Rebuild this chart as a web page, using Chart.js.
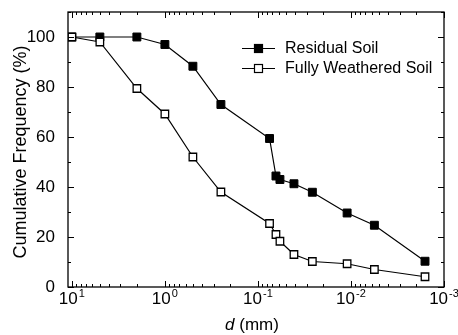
<!DOCTYPE html>
<html>
<head>
<meta charset="utf-8">
<script src="https://cdn.jsdelivr.net/npm/chart.js@4.4.1/dist/chart.umd.min.js"></script>
<style>
  html, body { margin: 0; padding: 0; background: #fff; }
  #wrap { width: 458px; height: 335px; }
</style>
</head>
<body>
<div id="wrap"><canvas id="c" width="458" height="335"></canvas></div>
<script>
// ---- data ----
const particleSize = [10, 5, 2, 1, 0.5, 0.25, 0.075, 0.064, 0.058, 0.041, 0.026, 0.011, 0.0056, 0.0016];
const residualSoil = [100, 100, 100, 97, 88.3, 73, 59.4, 44.4, 43, 41.3, 37.9, 29.6, 24.7, 10.3];
const fullyWeatheredSoil = [100, 98, 79.4, 69.2, 52, 38, 25.4, 21, 18.3, 13, 10.2, 9.3, 7, 4.1];
const seriesNames = ['Residual Soil', 'Fully Weathered Soil'];
const xMajorTicks = [10, 1, 0.1, 0.01, 0.001];
const xTickExponents = ['1', '0', '-1', '-2', '-3'];
const yTickLabels = [0, 20, 40, 60, 80, 100];
const yAxisTitle = 'Cumulative Frequency (%)';
const xAxisTitleItalic = 'd';
const xAxisTitleRest = ' (mm)';

const FONT = '"Liberation Sans", Arial, sans-serif';

const toPoints = (ys) => particleSize.map((x, i) => ({ x: x, y: ys[i] }));

const framePlugin = {
  id: 'frame',
  afterDraw(chart) {
    const ctx = chart.ctx;
    const a = chart.chartArea;
    const xs = chart.scales.x, ys = chart.scales.y;
    ctx.save();
    ctx.strokeStyle = '#000';
    ctx.lineWidth = 1.3;
    // frame
    ctx.strokeRect(a.left, a.top, a.right - a.left, a.bottom - a.top);
    ctx.lineWidth = 1;
    // x ticks (bottom and top, inward)
    const decades = [1, 0.1, 0.01, 0.001];
    ctx.beginPath();
    for (const v of xMajorTicks) {
      const px = Math.round(xs.getPixelForValue(v)) + 0.5;
      ctx.moveTo(px, a.bottom); ctx.lineTo(px, a.bottom - 6);
      ctx.moveTo(px, a.top); ctx.lineTo(px, a.top + 6);
    }
    for (const d of decades) {
      for (let m = 2; m <= 9; m++) {
        const v = d * m;
        const px = Math.round(xs.getPixelForValue(v)) + 0.5;
        if (px < a.left + 1 || px > a.right - 1) continue;
        ctx.moveTo(px, a.bottom); ctx.lineTo(px, a.bottom - 3);
        ctx.moveTo(px, a.top); ctx.lineTo(px, a.top + 3);
      }
    }
    // y ticks (left and right, inward)
    for (let v = 0; v <= 110; v += 10) {
      const py = Math.round(ys.getPixelForValue(v)) + 0.5;
      const len = (v % 20 === 0 && v <= 100) ? 6 : 3;
      ctx.moveTo(a.left, py); ctx.lineTo(a.left + len, py);
      ctx.moveTo(a.right, py); ctx.lineTo(a.right - len, py);
    }
    ctx.stroke();

    // x tick labels: 10 with superscript exponent
    ctx.fillStyle = '#000';
    ctx.textBaseline = 'alphabetic';
    xMajorTicks.forEach((v, i) => {
      const px = xs.getPixelForValue(v);
      ctx.font = '17px ' + FONT;
      const wBase = ctx.measureText('10').width;
      ctx.font = '11px ' + FONT;
      const wExp = ctx.measureText(xTickExponents[i]).width;
      const total = wBase + wExp + 1;
      const x0 = px - total / 2;
      ctx.font = '17px ' + FONT;
      ctx.textAlign = 'left';
      ctx.fillText('10', x0, a.bottom + 17);
      ctx.font = '11px ' + FONT;
      ctx.fillText(xTickExponents[i], x0 + wBase + 1, a.bottom + 10);
    });

    // x axis title: italic d + (mm)
    ctx.font = 'italic 17px ' + FONT;
    const wd = ctx.measureText(xAxisTitleItalic).width;
    ctx.font = '17px ' + FONT;
    const wr = ctx.measureText(xAxisTitleRest).width;
    const cx = 252;
    let tx = cx - (wd + wr) / 2;
    ctx.font = 'italic 17px ' + FONT;
    ctx.fillText(xAxisTitleItalic, tx, 330);
    ctx.font = '17px ' + FONT;
    ctx.fillText(xAxisTitleRest, tx + wd, 330);

    // y axis title
    ctx.save();
    ctx.translate(21, 152);
    ctx.rotate(-Math.PI / 2);
    ctx.font = '18px ' + FONT;
    ctx.textAlign = 'center';
    ctx.textBaseline = 'middle';
    ctx.fillText(yAxisTitle, 0, 0);
    ctx.restore();

    // legend
    const rows = [
      { y: 48, label: seriesNames[0], fill: '#000' },
      { y: 68, label: seriesNames[1], fill: '#fff' }
    ];
    for (const r of rows) {
      ctx.beginPath();
      ctx.lineWidth = 1.2;
      ctx.moveTo(242, r.y + 0.5); ctx.lineTo(275, r.y + 0.5);
      ctx.stroke();
      ctx.fillStyle = r.fill;
      ctx.fillRect(254.5, r.y - 3.5, 8, 8);
      ctx.lineWidth = 1.2;
      ctx.strokeRect(254.5, r.y - 3.5, 8, 8);
      ctx.fillStyle = '#000';
      ctx.font = '16px ' + FONT;
      ctx.textAlign = 'left';
      ctx.textBaseline = 'middle';
      ctx.fillText(r.label, 285, r.y + 1);
    }
    ctx.restore();
  }
};

new Chart(document.getElementById('c'), {
  type: 'line',
  data: {
    datasets: [
      {
        label: seriesNames[0],
        data: toPoints(residualSoil),
        borderColor: '#000',
        backgroundColor: '#000',
        borderWidth: 1.2,
        pointStyle: 'rect',
        pointRadius: 5.6,
        pointBorderWidth: 1,
        pointBackgroundColor: '#000',
        pointBorderColor: '#000',
        tension: 0,
        order: 2
      },
      {
        label: seriesNames[1],
        data: toPoints(fullyWeatheredSoil),
        borderColor: '#000',
        backgroundColor: '#fff',
        borderWidth: 1.2,
        pointStyle: 'rect',
        pointRadius: 5.3,
        pointBorderWidth: 1.3,
        pointBackgroundColor: '#fff',
        pointBorderColor: '#000',
        tension: 0,
        order: 1
      }
    ]
  },
  options: {
    responsive: false,
    animation: false,
    devicePixelRatio: 1,
    layout: { padding: { left: 0, top: 12, right: 14, bottom: 0 } },
    plugins: { legend: { display: false }, tooltip: { enabled: false }, title: { display: false } },
    scales: {
      x: {
        type: 'logarithmic',
        reverse: true,
        min: 0.001,
        max: 11,
        grid: { display: false },
        border: { display: false },
        ticks: { display: false },
        afterFit(s) { s.height = 48; s.paddingLeft = 0; s.paddingRight = 0; }
      },
      y: {
        type: 'linear',
        min: 0,
        max: 110,
        grid: { display: false },
        border: { display: false },
        afterBuildTicks(s) { s.ticks = yTickLabels.map(v => ({ value: v })); },
        ticks: {
          color: '#000',
          padding: 5,
          font: { family: FONT, size: 17 },
          callback: (v) => String(v)
        },
        afterFit(s) { s.width = 68; s.paddingTop = 0; s.paddingBottom = 0; }
      }
    }
  },
  plugins: [framePlugin]
});
</script>
</body>
</html>
